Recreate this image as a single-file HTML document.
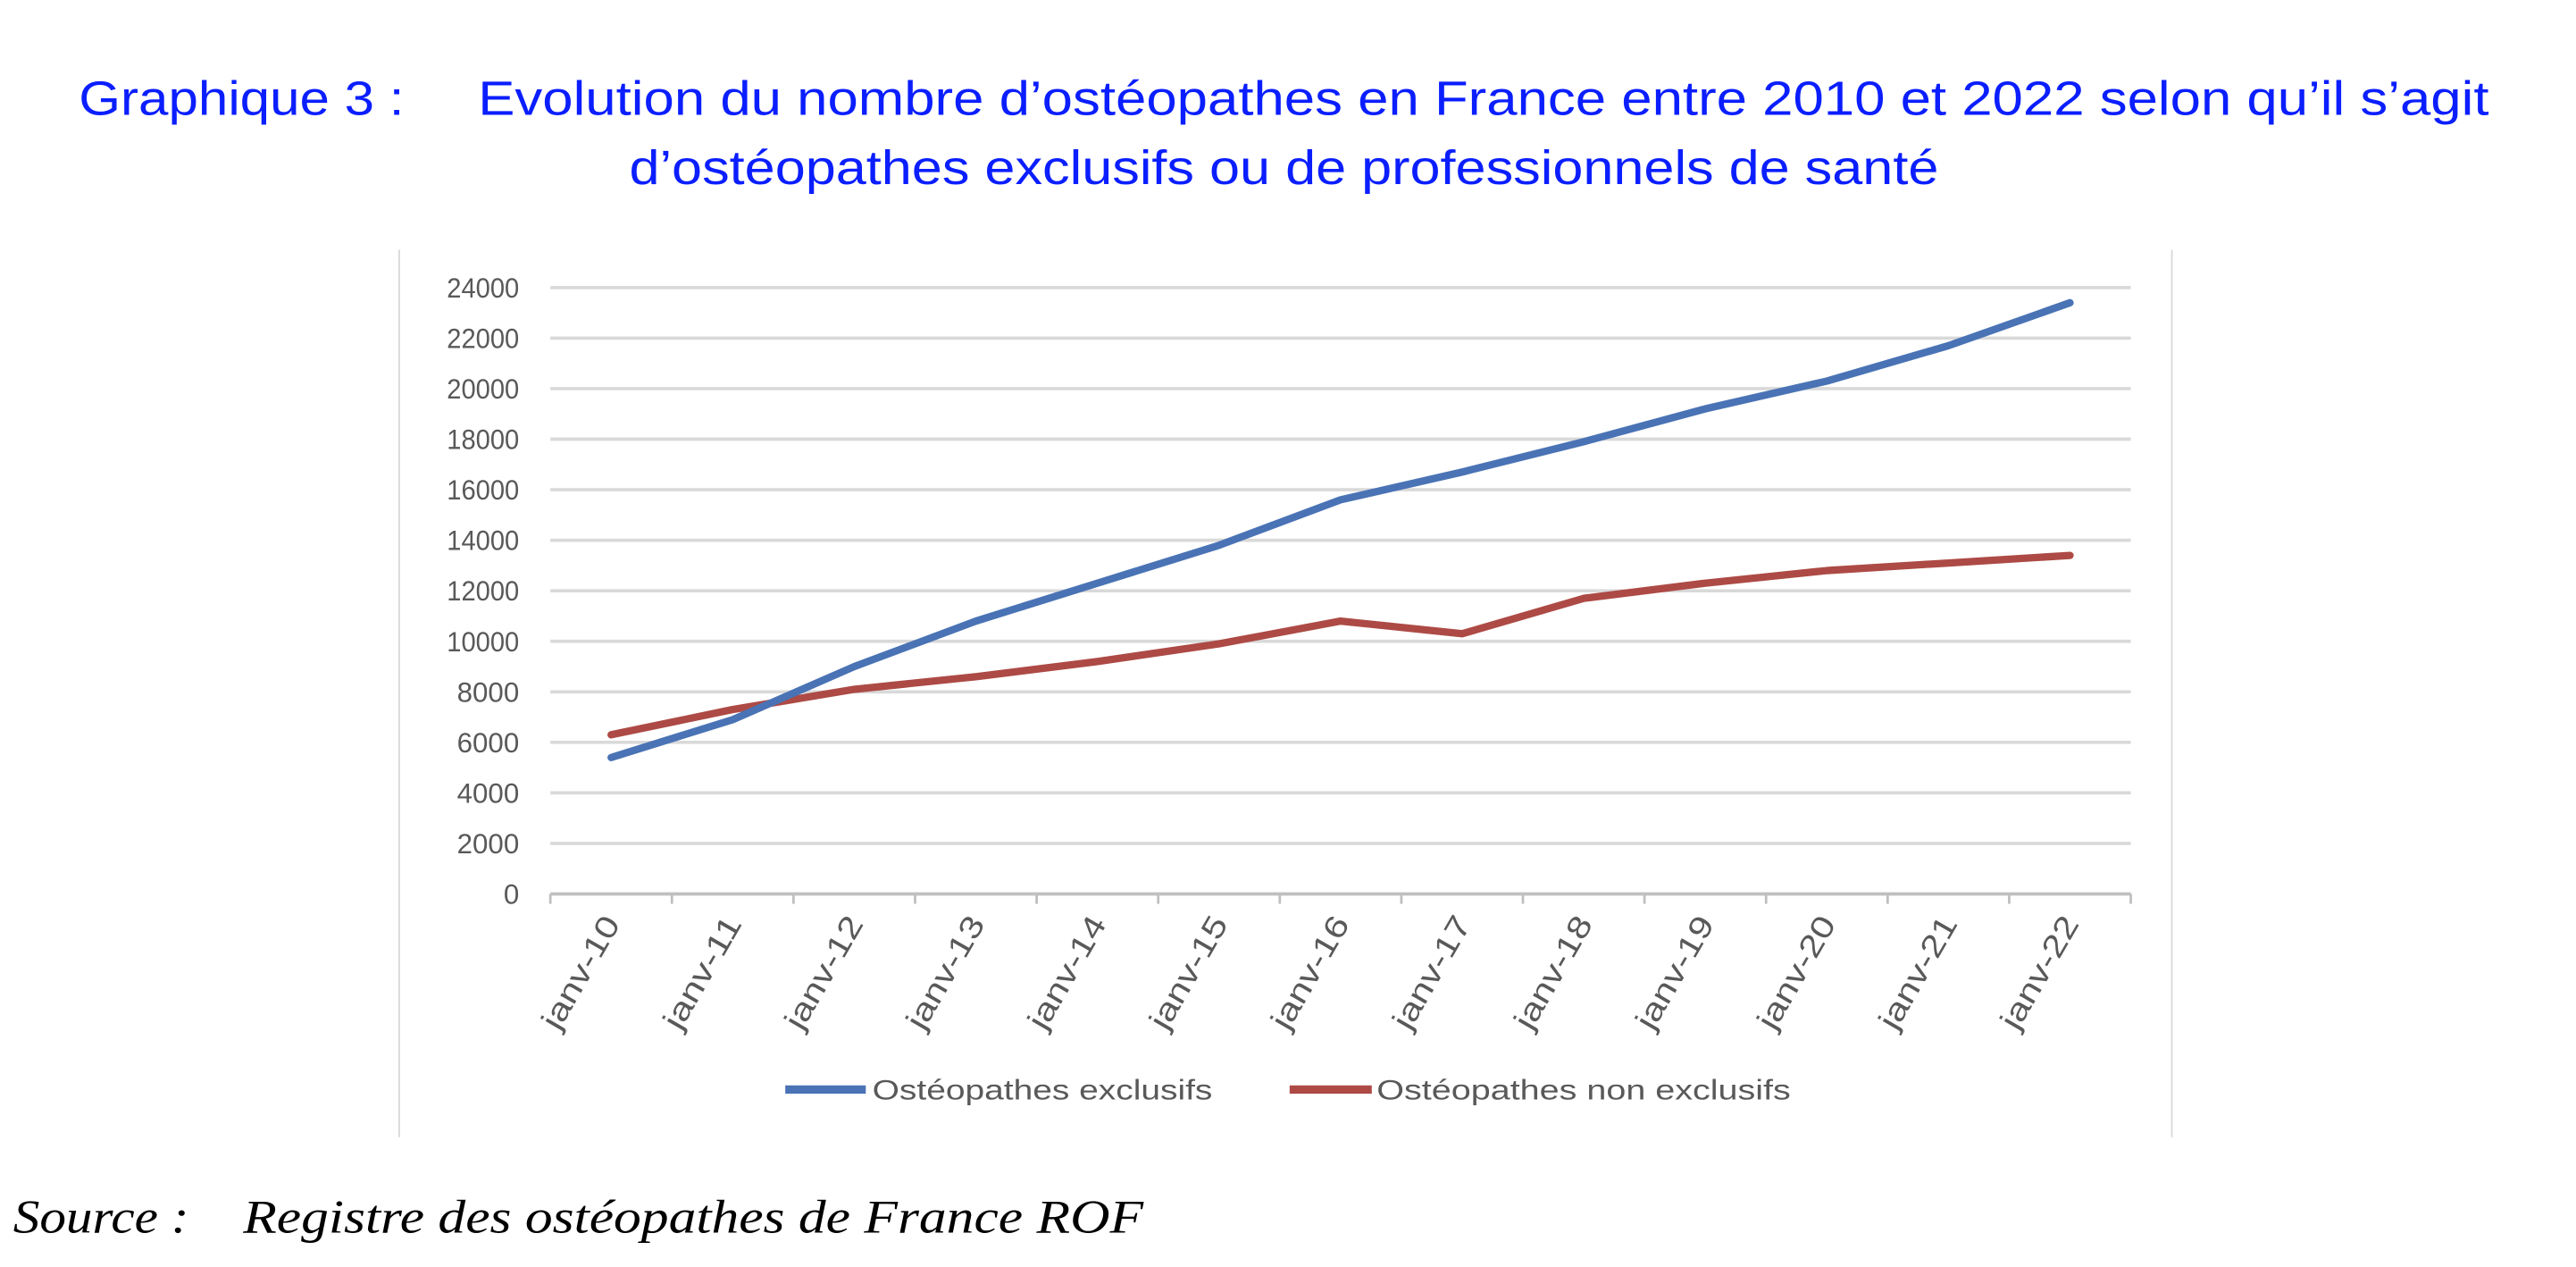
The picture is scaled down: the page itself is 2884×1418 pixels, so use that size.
<!DOCTYPE html>
<html><head><meta charset="utf-8"><style>
html,body{margin:0;padding:0;background:#fff;}
svg{display:block;}
</style></head><body>
<svg id="chart" width="2884" height="1418" viewBox="0 0 1568 771" preserveAspectRatio="none" xmlns="http://www.w3.org/2000/svg">
<g fill="#0a1eff" font-family="Liberation Sans, DejaVu Sans, sans-serif" font-size="29">
<text x="48" y="70" textLength="198" lengthAdjust="spacingAndGlyphs">Graphique 3 :</text>
<text x="291" y="70" textLength="1224" lengthAdjust="spacingAndGlyphs">Evolution du nombre d’ostéopathes en France entre 2010 et 2022 selon qu’il s’agit</text>
<text x="383" y="112" textLength="797" lengthAdjust="spacingAndGlyphs">d’ostéopathes exclusifs ou de professionnels de santé</text>
</g>
<line x1="243" y1="152" x2="243" y2="692" stroke="#d9d9d9" stroke-width="1"/>
<line x1="1322" y1="152" x2="1322" y2="692" stroke="#d9d9d9" stroke-width="1"/>
<g id="grid"></g>
<g id="yt" font-family="Liberation Sans, sans-serif" font-size="17" fill="#595959" text-anchor="end"></g>
<g id="xt" font-family="Liberation Sans, sans-serif" font-size="19" fill="#595959" text-anchor="end"></g>
<g id="lines"></g>
<g font-family="Liberation Sans, sans-serif" font-size="17" fill="#595959">
<line x1="478" y1="663" x2="527" y2="663" stroke="#4a73b5" stroke-width="5"/>
<text x="531" y="669" textLength="207" lengthAdjust="spacingAndGlyphs">Ostéopathes exclusifs</text>
<line x1="785" y1="663" x2="835" y2="663" stroke="#ad4a45" stroke-width="5"/>
<text x="838" y="669" textLength="252" lengthAdjust="spacingAndGlyphs">Ostéopathes non exclusifs</text>
</g>
<g font-family="Liberation Serif, serif" font-style="italic" font-size="29" fill="#000">
<text x="8" y="750" textLength="107" lengthAdjust="spacingAndGlyphs">Source :</text>
<text x="148" y="750" textLength="548" lengthAdjust="spacingAndGlyphs">Registre des ostéopathes de France ROF</text>
</g>
</svg>
<script>
const categories=["janv-10","janv-11","janv-12","janv-13","janv-14","janv-15","janv-16","janv-17","janv-18","janv-19","janv-20","janv-21","janv-22"];
const exclusifs=[5400,6900,9000,10800,12300,13800,15600,16700,17900,19200,20300,21700,23400];
const nonExclusifs=[6300,7300,8100,8600,9200,9900,10800,10300,11700,12300,12800,13100,13400];
const yTicks=[0,2000,4000,6000,8000,10000,12000,14000,16000,18000,20000,22000,24000];
const NS="http://www.w3.org/2000/svg";
const X0=335,X1=1297,Y0=544,Y1=175;
const band=(X1-X0)/categories.length;
function xs(i){return X0+band*(i+0.5);}
function ys(v){return Y0-(v/24000)*(Y0-Y1);}
function mk(t,a,p){const e=document.createElementNS(NS,t);for(const k in a)e.setAttribute(k,a[k]);p.appendChild(e);return e;}
const grid=document.getElementById('grid'),yt=document.getElementById('yt'),xt=document.getElementById('xt'),lines=document.getElementById('lines');
yTicks.forEach(v=>{
 const l=mk('line',{x1:X0,x2:X1,y1:ys(v),y2:ys(v),stroke:v===0?'#bfbfbf':'#d9d9d9','stroke-width':2},grid);
 
 
 const t=mk('text',{x:316,y:ys(v)+6,textLength:44,lengthAdjust:'spacingAndGlyphs'},yt);t.textContent=v;
 if(String(v).length<5){t.removeAttribute('textLength');t.removeAttribute('lengthAdjust');}
 
 
});
for(let i=0;i<=categories.length;i++){
 const x=X0+band*i;
 const l=mk('line',{x1:x,x2:x,y1:Y0,y2:Y0+6,stroke:'#bfbfbf','stroke-width':1.5},grid);
 
 
}
categories.forEach((c,i)=>{
 const x=xs(i)+6,y=Y0+18;
 const t=mk('text',{x:x,y:y,transform:`rotate(-60 ${x} ${y})`,textLength:76,lengthAdjust:'spacingAndGlyphs'},xt);t.textContent=c;
 
 
});
function series(vals,color,name){
 const p=mk('polyline',{points:vals.map((v,i)=>xs(i)+','+ys(v)).join(' '),fill:'none',stroke:color,'stroke-width':4.5,'stroke-linejoin':'round','stroke-linecap':'round'},lines);
 
 
}
series(nonExclusifs,'#ad4a45','line-non-exclusifs');
series(exclusifs,'#4a73b5','line-exclusifs');
</script>
</body></html>
